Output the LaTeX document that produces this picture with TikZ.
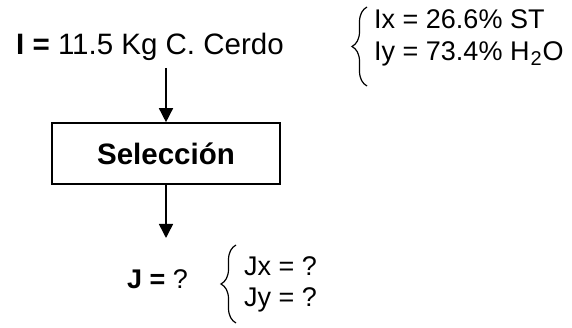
\documentclass[tikz,border=0pt]{standalone}
\usepackage{fontspec}
\setmainfont{Liberation Sans}
\usetikzlibrary{arrows.meta,decorations.pathreplacing}
\newcommand{\subtwo}{\kern1pt\raisebox{-5pt}{\fontsize{20}{20}\selectfont 2}\kern1pt}
\tikzset{
  bigtxt/.style={anchor=base west,inner sep=0pt,font=\fontsize{29.5}{32}\selectfont},
  txt/.style={anchor=base west,inner sep=0pt,font=\fontsize{27}{30}\selectfont},
  procbox/.style={draw,line width=1.6pt,minimum width=228pt,minimum height=61pt,inner sep=0pt,font=\fontsize{29.5}{32}\selectfont\bfseries},
  flow/.style={line width=1.5pt,-{Triangle[length=14pt,width=14pt]}},
  curly/.style={line width=1.2pt,decorate,decoration={brace,amplitude=15pt}}
}
\begin{document}
\begin{tikzpicture}[x=1pt,y=-1pt]
\useasboundingbox (0,0) rectangle (572,328);
\node[bigtxt] (I) at (16,55) {\textbf{I =} 11.5 Kg C. Cerdo};
\node[txt] (Ix) at (374,29) {Ix = 26.6\% ST};
\node[txt] (Iy) at (374,61) {Iy = 73.4\% H\subtwo O};
\coordinate (b1s) at (367,86);
\coordinate (b1e) at (367,7);
\draw[curly] (b1s) -- (b1e);
\coordinate (a1) at (166,68);
\node[procbox] (sel) at (166,153.5) {Selección};
\draw[flow] (a1) -- (sel.north);
\coordinate (a2) at (166,238);
\draw[flow] (sel.south) -- (a2);
\node[txt] (J) at (127,288) {\textbf{J =} ?};
\node[txt] (Jx) at (244,276) {Jx = ?};
\node[txt] (Jy) at (244,306) {Jy = ?};
\coordinate (b2s) at (236,323);
\coordinate (b2e) at (236,245);
\draw[curly] (b2s) -- (b2e);
\end{tikzpicture}
\end{document}
